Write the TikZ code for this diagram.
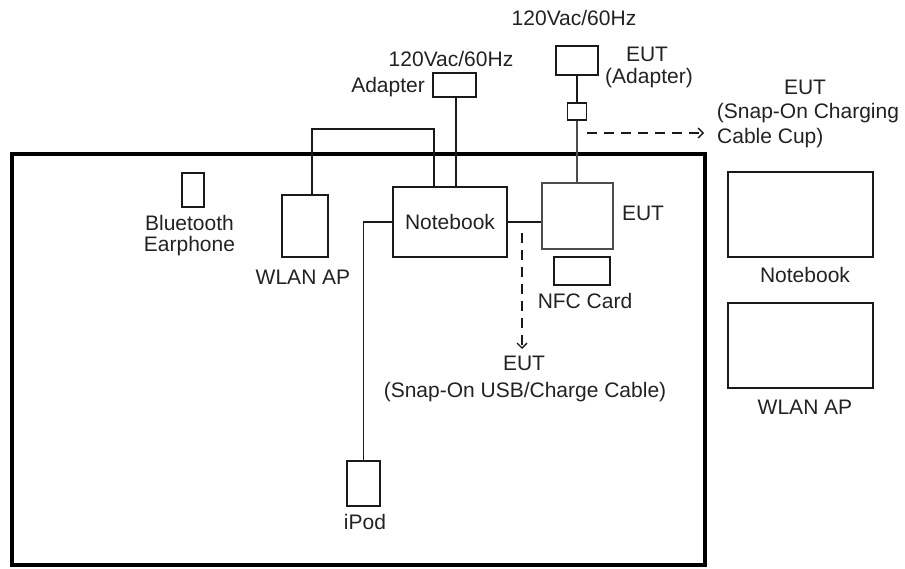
\documentclass[tikz,border=0pt]{standalone}
\usepackage{fontspec}
\setmainfont{Liberation Sans}
\usetikzlibrary{arrows.meta}
\definecolor{txt}{HTML}{222222}
\definecolor{ln}{HTML}{1A1A1A}
\begin{document}
\begin{tikzpicture}[x=1pt,y=-1pt,
  every node/.style={font=\fontsize{21}{21.5}\selectfont, text=txt},
  box/.style={draw=ln, line width=1.6pt, fill=white, inner sep=0pt},
  lbl/.style={inner sep=0pt},
  wire/.style={draw=ln, line width=1.6pt},
  dasharrow/.style={draw=ln, line width=1.3pt, dash pattern=on 10pt off 7pt, -{Straight Barb[length=5pt,width=10pt]}}
]
\useasboundingbox (0,0) rectangle (905,568);
% main table
\node[draw=black, line width=4pt, minimum width=693pt, minimum height=411pt, inner sep=0pt] (table) at (358.5,359.5) {};
% boxes
\node[box, minimum width=22pt, minimum height=34pt] (bt) at (193,190) {};
\node[box, minimum width=46pt, minimum height=62pt] (wlan) at (305,226) {};
\node[box, minimum width=114pt, minimum height=70pt] (nb) at (450,222) {Notebook};
\node[box, minimum width=43pt, minimum height=24pt] (adl) at (454.5,85) {};
\node[box, minimum width=42pt, minimum height=29pt] (adr) at (577,60.5) {};
\node[box, minimum width=19pt, minimum height=17pt] (sq) at (577,111.5) {};
\node[box, draw=black!70, minimum width=71pt, minimum height=66pt] (eut) at (577.5,216) {};
\node[box, minimum width=56pt, minimum height=28pt] (nfc) at (582,271) {};
\node[box, minimum width=33pt, minimum height=45pt] (ipod) at (363.5,483.5) {};
\node[box, minimum width=145pt, minimum height=85pt] (rnb) at (800.5,214.5) {};
\node[box, minimum width=145pt, minimum height=85pt] (rwlan) at (800.5,345.5) {};
% coordinates
\coordinate (wt) at (434,129);
\coordinate (ds) at (587,133);
\coordinate (de) at (704,133);
\coordinate (vs) at (522,233);
\coordinate (ve) at (522,349);
% wires
\draw[wire] ([xshift=7pt]wlan.north) |- (wt) -- ([xshift=-16pt]nb.north);
\draw[wire] ([xshift=1.5pt]adl.south) -- ([xshift=1.5pt]adl.south |- nb.north);
\draw[wire] (adr.south) -- (sq.north);
\draw[wire, draw=black!70] (sq.south) -- (sq.south |- eut.north);
\draw[wire] (nb.east) -- (nb.east -| eut.west);
\draw[wire] (nb.west) -| (ipod.north);
\draw[dasharrow] (ds) -- (de);
\draw[dasharrow] (vs) -- (ve);
% labels
\node[lbl] (v1) at (574,18) {120Vac/60Hz};
\node[lbl] (e1) at (647,54) {EUT};
\node[lbl] (e1b) at (649,78) {(Adapter)};
\node[lbl] (v2) at (451,59) {120Vac/60Hz};
\node[lbl, anchor=east] (adlt) at (425,87) {Adapter};
\node[lbl] (e2) at (805,87) {EUT};
\node[lbl] (e2b) at (808,113) {(Snap-On Charging};
\node[lbl, anchor=west] (e2c) at (717,138) {Cable Cup)};
\node[lbl, align=center] (btt) at (189.5,235.5) {Bluetooth\\Earphone};
\node[lbl] (wlant) at (303,277) {WLAN AP};
\node[lbl] (eutt) at (643,213) {EUT};
\node[lbl] (nfct) at (585,301) {NFC Card};
\node[lbl] (e3) at (524,363) {EUT};
\node[lbl] (e3b) at (525,392) {(Snap-On USB/Charge Cable)};
\node[lbl] (ipodt) at (365,522) {iPod};
\node[lbl] (rnbt) at (805,275) {Notebook};
\node[lbl] (rwlant) at (805,407) {WLAN AP};
\end{tikzpicture}
\end{document}
